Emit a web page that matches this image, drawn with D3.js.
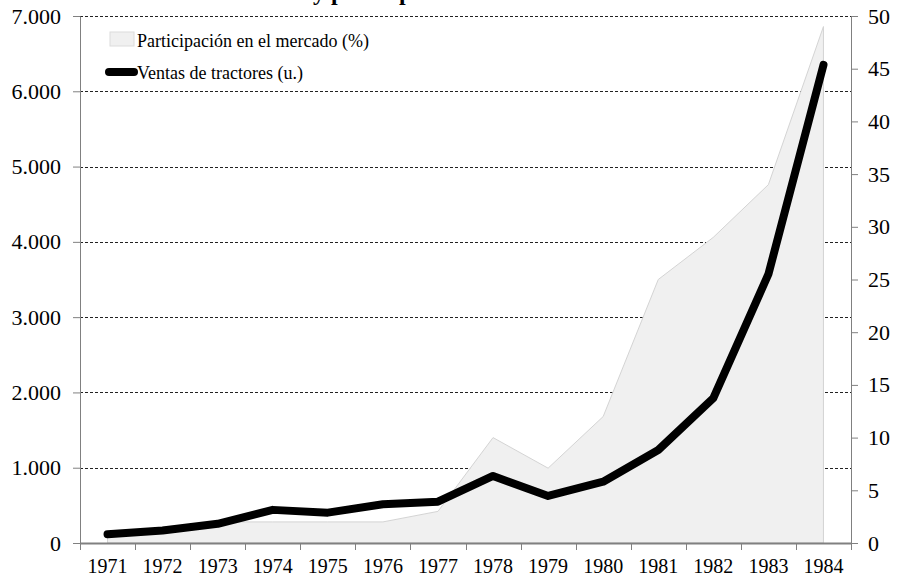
<!DOCTYPE html>
<html>
<head>
<meta charset="utf-8">
<script src="https://cdn.jsdelivr.net/npm/d3@7"></script>
<style>
  body { margin: 0; background: #fff; }
  .axis path, .axis line { stroke: #808080; }
  .grid line { stroke: #222; stroke-dasharray: 3,2; }
</style>
</head>
<body>
<svg id="chart"></svg>
<script>
// Data
const years = ['1971','1972','1973','1974','1975','1976','1977','1978','1979','1980','1981','1982','1983','1984'];
const ventas = [115, 165, 255, 440, 403, 515, 549, 890, 625, 814, 1235, 1925, 3570, 6350];
const participacion = [1.0, 1.5, 2, 2, 2, 2, 3, 10, 7.1, 12, 25, 29, 34, 49];
const leftTicks = [0, 1000, 2000, 3000, 4000, 5000, 6000, 7000];
const rightTicks = [0, 5, 10, 15, 20, 25, 30, 35, 40, 45, 50];
const titleText = 'Ventas de tractores y participación en el mercado';
const legendLabels = ['Participación en el mercado (%)', 'Ventas de tractores (u.)'];

const FONT = '"Liberation Serif", "Times New Roman", "DejaVu Serif", serif';

const config = {
  containerWidth: 907,
  containerHeight: 578,
  margin: {top: 16, right: 56, bottom: 35, left: 80}
};

const width = config.containerWidth - config.margin.left - config.margin.right;
const height = config.containerHeight - config.margin.top - config.margin.bottom;

const svg = d3.select('#chart')
    .attr('width', config.containerWidth)
    .attr('height', config.containerHeight)
    .style('font-family', FONT);

const chart = svg.append('g')
    .attr('transform', `translate(${config.margin.left},${config.margin.top})`);

// Scales
const xScale = d3.scaleBand().domain(years).range([0, width]);
const yLeft = d3.scaleLinear().domain([0, 7000]).range([height, 0]);
const yRight = d3.scaleLinear().domain([0, 50]).range([height, 0]);
const xMid = d => xScale(d) + xScale.bandwidth() / 2;

const esFormat = d3.formatLocale({decimal: ',', thousands: '.', grouping: [3], currency: ['', '€']}).format(',');

// Dashed gridlines (under the area)
chart.append('g')
    .attr('class', 'grid')
  .selectAll('line')
    .data(leftTicks.filter(d => d > 0))
  .join('line')
    .attr('x1', 0)
    .attr('x2', width)
    .attr('y1', d => Math.round(yLeft(d)) + 0.5)
    .attr('y2', d => Math.round(yLeft(d)) + 0.5);

// Market share area
const area = d3.area()
    .x((d, i) => xMid(years[i]))
    .y0(yRight(0))
    .y1(d => yRight(d));

chart.append('path')
    .datum(participacion)
    .attr('d', area)
    .attr('fill', '#f0f0f0')
    .attr('stroke', '#d4d4d4')
    .attr('stroke-width', 1);

// Axes
const styleAxis = size => g => g.attr('font-family', null).attr('font-size', null)
    .selectAll('text').style('font-family', FONT).style('font-size', size + 'px').attr('fill', '#000');

const xAxis = d3.axisBottom(xScale).tickSize(0).tickPadding(16);
const xAxisG = chart.append('g')
    .attr('class', 'axis x-axis')
    .attr('transform', `translate(0,${height})`)
    .call(xAxis)
    .call(styleAxis(20));
xAxisG.select('.domain').attr('stroke-width', 2);

// Category separator ticks on the x axis
xAxisG.selectAll('.sep')
    .data(d3.range(years.length + 1))
  .join('line')
    .attr('class', 'sep')
    .attr('x1', i => Math.round(i * xScale.step()) + 0.5)
    .attr('x2', i => Math.round(i * xScale.step()) + 0.5)
    .attr('y1', 0)
    .attr('y2', 7);

const yAxisL = d3.axisLeft(yLeft).tickValues(leftTicks).tickFormat(esFormat).tickSize(7).tickSizeOuter(0).tickPadding(12);
chart.append('g')
    .attr('class', 'axis y-axis')
    .call(yAxisL)
    .call(styleAxis(22));

const yAxisR = d3.axisRight(yRight).tickValues(rightTicks).tickSize(7).tickSizeOuter(0).tickPadding(10);
chart.append('g')
    .attr('class', 'axis y-axis-right')
    .attr('transform', `translate(${width},0)`)
    .call(yAxisR)
    .call(styleAxis(22));

// Tractor sales line
const line = d3.line()
    .x((d, i) => xMid(years[i]))
    .y(d => yLeft(d));

chart.append('path')
    .datum(ventas)
    .attr('d', line)
    .attr('fill', 'none')
    .attr('stroke', '#000')
    .attr('stroke-width', 8)
    .attr('stroke-linecap', 'round')
    .attr('stroke-linejoin', 'round');

// Legend
const legend = svg.append('g')
    .attr('transform', 'translate(110,32)');

legend.append('rect')
    .attr('width', 24)
    .attr('height', 14)
    .attr('fill', '#f0f0f0')
    .attr('stroke', '#dcdcdc');

legend.append('text')
    .attr('x', 27)
    .attr('y', 15)
    .style('font-family', FONT)
    .style('font-size', '18px')
    .text(legendLabels[0]);

legend.append('line')
    .attr('x1', -1)
    .attr('x2', 24)
    .attr('y1', 40)
    .attr('y2', 40)
    .attr('stroke', '#000')
    .attr('stroke-width', 8)
    .attr('stroke-linecap', 'round');

legend.append('text')
    .attr('x', 27)
    .attr('y', 47)
    .style('font-family', FONT)
    .style('font-size', '18px')
    .text(legendLabels[1]);

// Title, mostly cut off at the top edge as in the reference
const title = svg.append('text')
    .attr('y', 0)
    .style('font-family', FONT)
    .style('font-size', '24px')
    .style('font-weight', 'bold')
    .text(titleText);
const prefix = title.node().getSubStringLength(0, titleText.indexOf(' y ') + 1);
title.attr('x', 313 - prefix);
</script>
</body>
</html>
